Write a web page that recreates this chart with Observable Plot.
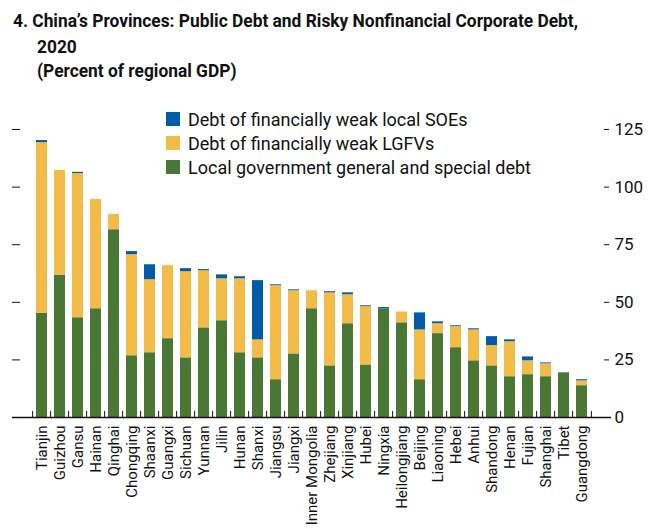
<!DOCTYPE html>
<html>
<head>
<meta charset="utf-8">
<script src="https://cdn.jsdelivr.net/npm/d3@7"></script>
<script src="https://cdn.jsdelivr.net/npm/@observablehq/plot@0.6"></script>
<style>
  html, body { margin: 0; padding: 0; background: #fff; }
  body { width: 655px; height: 529px; position: relative; overflow: hidden;
         font-family: Roboto, "Liberation Sans", sans-serif; }
  #title { height: 88px; position: relative; }
  #title .tl { position: absolute; white-space: nowrap; font-weight: bold; font-size: 18px;
               line-height: 25px; color: #111; transform-origin: 0 0; }
  #legend { position: absolute; left: 166px; top: 107px; font-size: 18px; color: #111; }
  #legend .row { display: flex; align-items: center; height: 24px; }
  #legend .sw { width: 14px; height: 14px; margin-right: 8px; flex: none; }
  #chart { display: block; }
</style>
</head>
<body>
<div id="title"></div>
<div id="legend"></div>
<div id="chart"></div>
<script>
const titleLines = ["4. China’s Provinces: Public Debt and Risky Nonfinancial Corporate Debt,", "2020", "(Percent of regional GDP)"];
const provinces = ["Tianjin","Guizhou","Gansu","Hainan","Qinghai","Chongqing","Shaanxi","Guangxi","Sichuan","Yunnan","Jilin","Hunan","Shanxi","Jiangsu","Jiangxi","Inner Mongolia","Zhejiang","Xinjiang","Hubei","Ningxia","Heilongjiang","Beijing","Liaoning","Hebei","Anhui","Shandong","Henan","Fujian","Shanghai","Tibet","Guangdong"];
const localGovDebt = [45.2,61.7,43.3,47.2,81.5,26.8,28.1,34.2,25.9,38.9,42.0,28.1,25.9,16.4,27.6,47.2,22.4,40.7,22.8,47.2,41.1,16.4,36.4,30.3,24.6,22.4,17.7,18.6,17.7,19.4,13.8];
const lgfvDebt = [74.1,45.5,62.6,47.4,6.6,43.9,31.7,31.7,37.4,24.8,18.2,32.1,7.8,40.8,27.4,7.8,31.7,12.6,25.3,0,4.7,21.6,4.3,9.1,13.4,8.8,15.2,6.0,5.6,0,2.1];
const soeDebt = [0.9,0,0.5,0,0,1.3,6.5,0,1.3,0.5,1.7,0.9,25.7,0.4,0.4,0,0.5,0.8,0.4,0.5,0,7.4,0.8,0.4,0.5,3.9,0.8,1.7,0.4,0,0.5];
const seriesNames = ["Debt of financially weak local SOEs","Debt of financially weak LGFVs","Local government general and special debt"];
const seriesColors = ["#005BA9","#F3BB48","#4A7636"];
const yTicks = [0,25,50,75,100,125];

// title (condensed look via horizontal scaling)
const titleEl = document.getElementById("title");
const titlePos = [[13, 7.5], [37, 33.5], [37, 57.5]];
const tEls = titleLines.map((s, i) => {
  const d = document.createElement("div");
  d.className = "tl";
  d.textContent = s;
  d.style.left = titlePos[i][0] + "px";
  d.style.top = titlePos[i][1] + "px";
  titleEl.appendChild(d);
  return d;
});
const sx = 565 / tEls[0].getBoundingClientRect().width;
tEls.forEach(d => d.style.transform = `scaleX(${sx})`);

// long table: stack bottom-up green, yellow, blue
const rows = [];
provinces.forEach((p, i) => {
  rows.push({province: p, series: seriesNames[2], value: localGovDebt[i]});
  rows.push({province: p, series: seriesNames[1], value: lgfvDebt[i]});
  rows.push({province: p, series: seriesNames[0], value: soeDebt[i]});
});

const W = 655, H = 441, mL = 20, mR = 52, mT = 41, mB = 112;
const halfStep = (W - mL - mR) / provinces.length / 2;
const frameH = H - mT - mB;

const chart = Plot.plot({
  width: W, height: H,
  marginLeft: mL, marginRight: mR, marginTop: mT, marginBottom: mB,
  style: {fontFamily: 'Roboto, "Liberation Sans", sans-serif', color: "#111", background: "#fff"},
  x: {domain: provinces, paddingInner: 0.4, paddingOuter: 0.2, axis: null},
  y: {domain: [0, 125], axis: null},
  color: {domain: seriesNames, range: seriesColors},
  marks: [
    Plot.barY(rows, Plot.stackY({x: "province", y: "value", fill: "series", order: null})),
    Plot.ruleX(provinces, {x: d => d, dx: -halfStep, insetTop: frameH - 6, stroke: "#111", strokeWidth: 1}),
    Plot.ruleX(provinces.slice(-1), {x: d => d, dx: halfStep, insetTop: frameH - 6, stroke: "#111", strokeWidth: 1}),
    Plot.ruleY([0], {insetLeft: -8, insetRight: -8, stroke: "#111", strokeWidth: 1.5}),
    Plot.axisY({anchor: "left", ticks: yTicks.filter(t => t > 0), tickSize: 8, tickFormat: () => "", label: null, stroke: "#111"}),
    Plot.axisY({anchor: "right", ticks: yTicks, tickSize: 5, tickPadding: 6, fontSize: 17, label: null}),
    Plot.axisX({anchor: "bottom", tickSize: 0, tickRotate: -90, tickPadding: 8, fontSize: 15, label: null})
  ]
});
document.getElementById("chart").appendChild(chart);

const legend = document.getElementById("legend");
seriesNames.forEach((name, i) => {
  const row = document.createElement("div");
  row.className = "row";
  const sw = document.createElement("div");
  sw.className = "sw";
  sw.style.background = seriesColors[i];
  const t = document.createElement("span");
  t.textContent = name;
  row.appendChild(sw); row.appendChild(t);
  legend.appendChild(row);
});
</script>
</body>
</html>
